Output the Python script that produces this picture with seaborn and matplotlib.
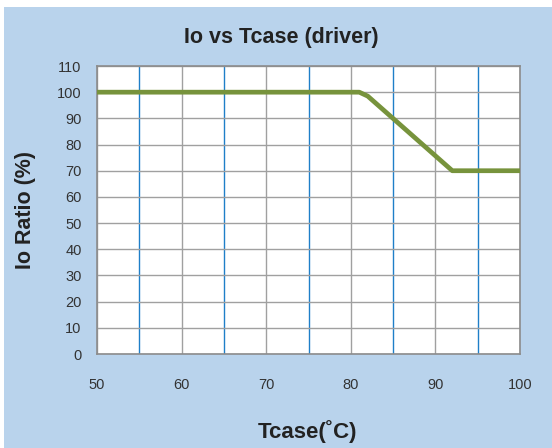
import matplotlib
matplotlib.use("Agg")
import matplotlib.pyplot as plt
import seaborn as sns
import pandas as pd
from matplotlib.patches import Rectangle

# data
tcase = [50, 81, 82, 92, 100]
io_ratio = [100, 100, 98.5, 70, 70]
x_ticks = [50, 60, 70, 80, 90, 100]
x_minor = [55, 65, 75, 85, 95]
y_ticks = [0, 10, 20, 30, 40, 50, 60, 70, 80, 90, 100, 110]

sns.set_style("white")
plt.rcParams['font.family'] = ['Liberation Sans', 'DejaVu Sans']

bg = "#B9D3EC"
fig = plt.figure(figsize=(5.52, 4.48), dpi=100)
fig.patch.set_facecolor("white")
# light blue chart area, white strip only at top and left
fig.patches.append(Rectangle((4/552, 0), 548/552, 441/448, transform=fig.transFigure,
                             facecolor=bg, edgecolor="none", zorder=-10))

ax = fig.add_axes([97/552, 1 - 354/448, 423/552, 288/448])
ax.set_facecolor("white")

df = pd.DataFrame({"Tcase": tcase, "Io": io_ratio})
sns.lineplot(data=df, x="Tcase", y="Io", ax=ax, color="#77933C", linewidth=3.4, zorder=5)

ax.set_xlim(50, 100)
ax.set_ylim(0, 110)
ax.set_xticks(x_ticks)
ax.set_yticks(y_ticks)
ax.set_xticks(x_minor, minor=True)

ax.grid(True, which="major", axis="both", color="#A0A0A0", linewidth=1.0, zorder=1)
ax.grid(True, which="minor", axis="x", color="#1F7FC8", linewidth=1.0, zorder=2)
ax.set_axisbelow(True)

for s in ax.spines.values():
    s.set_color("#8C8C8C")
    s.set_linewidth(1.2)

ax.tick_params(axis="both", which="major", direction="out", length=5, width=1.2,
               color="#8C8C8C", labelsize=10.5, labelcolor="#333333")
ax.tick_params(axis="x", which="major", pad=12)
ax.tick_params(axis="x", which="minor", length=0)
ax.tick_params(axis="y", pad=6)

ax.set_xlabel("")
ax.set_ylabel("")

fig.text(281/552, 1 - 37/448, "Io vs Tcase (driver)", ha="center", va="center",
         fontsize=15.5, fontweight="bold", color="#222222")
fig.text(308/552, 1 - 432/448, "Tcase(˚C)", ha="center", va="center",
         fontsize=16, fontweight="bold", color="#222222")
fig.text(26/552, 1 - 210/448, "Io Ratio (%)", ha="center", va="center", rotation=90,
         fontsize=15.5, fontweight="bold", color="#222222")

fig.savefig("out.png", dpi=100)
